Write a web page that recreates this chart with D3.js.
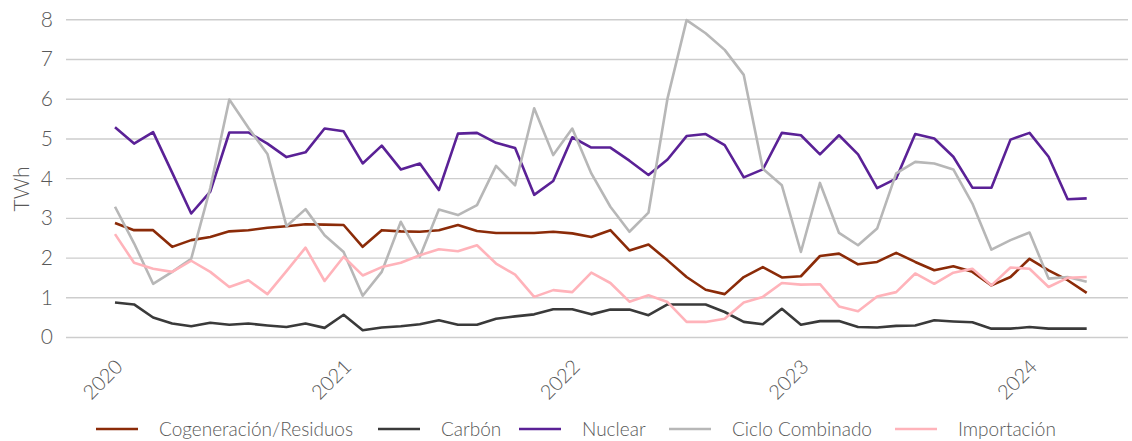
<!DOCTYPE html>
<html>
<head>
<meta charset="utf-8">
<script src="https://cdn.jsdelivr.net/npm/d3@7"></script>
<style>
  body { margin: 0; background: #fff; }
  svg { display: block; font-family: 'Lato', 'Noto Sans', sans-serif; font-weight: 300; }
  .grid line { stroke: #cdcdcd; stroke-width: 1.4; }
  .grid path { display: none; }
  .tick-label { fill: #595959; }
  .series { fill: none; stroke-width: 2.6; stroke-linejoin: round; }
</style>
</head>
<body>
<svg id="chart"></svg>
<script>
// Monthly generation by technology, Jan 2020 - Apr 2024 (TWh)

const W = 1132, H = 441;

const months = d3.timeMonths(new Date(2020, 0, 1), new Date(2024, 4, 1)).map(d3.timeFormat('%Y-%m'));
const yearTicks = ['2020-01', '2021-01', '2022-01', '2023-01', '2024-01'];
const yTicks = [0, 1, 2, 3, 4, 5, 6, 7, 8];

const seriesNames = ['Cogeneración/Residuos', 'Carbón', 'Nuclear', 'Ciclo Combinado', 'Importación'];
const seriesColors = ['#8b2b08', '#3a3a3a', '#5a2196', '#b7b7b7', '#ffb3ba'];

const cogeneracion = [
  2.87, 2.69, 2.69, 2.27, 2.44, 2.52, 2.66, 2.69, 2.75, 2.79, 2.84, 2.83,
  2.82, 2.27, 2.69, 2.66, 2.65, 2.69, 2.82, 2.67, 2.62, 2.62, 2.62, 2.65,
  2.61, 2.52, 2.69, 2.18, 2.33, 1.93, 1.51, 1.19, 1.08, 1.51, 1.76, 1.50,
  1.53, 2.04, 2.10, 1.83, 1.89, 2.12, 1.89, 1.68, 1.78, 1.64, 1.30, 1.51,
  1.97, 1.68, 1.43, 1.11
];
const carbon = [
  0.87, 0.82, 0.49, 0.34, 0.27, 0.36, 0.31, 0.34, 0.29, 0.25, 0.34, 0.23,
  0.56, 0.17, 0.24, 0.27, 0.32, 0.42, 0.31, 0.31, 0.46, 0.52, 0.57, 0.70,
  0.70, 0.57, 0.69, 0.69, 0.55, 0.82, 0.82, 0.82, 0.63, 0.38, 0.32, 0.71,
  0.31, 0.40, 0.40, 0.25, 0.24, 0.28, 0.29, 0.42, 0.39, 0.37, 0.21, 0.21,
  0.25, 0.21, 0.21, 0.21
];
const nuclear = [
  5.28, 4.87, 5.16, 4.14, 3.11, 3.66, 5.15, 5.15, 4.87, 4.53, 4.65, 5.25,
  5.18, 4.37, 4.82, 4.22, 4.37, 3.70, 5.12, 5.14, 4.89, 4.76, 3.58, 3.93,
  5.03, 4.77, 4.77, 4.44, 4.08, 4.47, 5.06, 5.11, 4.83, 4.02, 4.22, 5.14,
  5.08, 4.60, 5.08, 4.60, 3.75, 3.99, 5.11, 5.00, 4.54, 3.76, 3.76, 4.97,
  5.14, 4.54, 3.47, 3.49
];
const cicloCombinado = [
  3.28, 2.36, 1.34, 1.64, 1.97, 3.75, 5.98, 5.27, 4.61, 2.79, 3.22, 2.56,
  2.14, 1.04, 1.64, 2.90, 2.02, 3.21, 3.07, 3.32, 4.31, 3.82, 5.76, 4.58,
  5.25, 4.12, 3.28, 2.65, 3.13, 6.01, 7.98, 7.65, 7.23, 6.60, 4.24, 3.82,
  2.14, 3.88, 2.62, 2.31, 2.73, 4.12, 4.41, 4.37, 4.22, 3.36, 2.20, 2.44,
  2.63, 1.47, 1.51, 1.39
];
const importacion = [
  2.59, 1.87, 1.72, 1.64, 1.92, 1.64, 1.26, 1.43, 1.08, 1.66, 2.25, 1.41,
  2.02, 1.55, 1.76, 1.87, 2.06, 2.21, 2.16, 2.31, 1.85, 1.57, 1.01, 1.18,
  1.13, 1.62, 1.36, 0.89, 1.05, 0.88, 0.38, 0.38, 0.46, 0.87, 1.01, 1.36,
  1.32, 1.33, 0.77, 0.65, 1.02, 1.13, 1.60, 1.34, 1.62, 1.72, 1.30, 1.75,
  1.72, 1.26, 1.49, 1.51
];
const seriesValues = [cogeneracion, carbon, nuclear, cicloCombinado, importacion];

const PLOT = { left: 66, right: 1128, top: 19.3, bottom: 337 };
// legend swatch left edges, as laid out in the original
const legendX = [96, 378, 519, 669, 895];

const svg = d3.select('#chart')
  .attr('width', W)
  .attr('height', H)
  .attr('viewBox', `0 0 ${W} ${H}`);

const x = d3.scalePoint().domain(months).range([115, 1086.7]);
const y = d3.scaleLinear().domain([0, 8]).range([PLOT.bottom, PLOT.top]);

// horizontal gridlines
svg.append('g')
  .attr('class', 'grid')
  .attr('transform', `translate(${PLOT.left},0)`)
  .call(d3.axisLeft(y).tickValues(yTicks).tickSize(-(PLOT.right - PLOT.left)).tickFormat(''));

// y tick labels
svg.append('g').selectAll('text')
  .data(yTicks)
  .join('text')
  .attr('class', 'tick-label')
  .attr('x', 53)
  .attr('y', d => y(d))
  .attr('dy', '0.35em')
  .attr('text-anchor', 'end')
  .style('font-size', '21px')
  .text(d => d);

svg.append('text')
  .attr('class', 'tick-label')
  .attr('transform', 'translate(29,189) rotate(-90)')
  .attr('text-anchor', 'middle')
  .style('font-size', '21px')
  .text('TWh');

// x year labels, rotated
svg.append('g').selectAll('text')
  .data(yearTicks)
  .join('text')
  .attr('class', 'tick-label')
  .attr('transform', d => `translate(${x(d) + 9},368) rotate(-45)`)
  .attr('text-anchor', 'end')
  .style('font-size', '20px')
  .text(d => d.slice(0, 4));

// lines
const line = d3.line()
  .x((d, i) => x(months[i]))
  .y(d => y(d));

svg.append('g').selectAll('path')
  .data(seriesValues)
  .join('path')
  .attr('class', 'series')
  .attr('stroke', (d, i) => seriesColors[i])
  .attr('d', line);

// legend
const items = svg.append('g').attr('class', 'legend')
  .selectAll('g')
  .data(seriesNames)
  .join('g')
  .attr('transform', (d, i) => `translate(${legendX[i]},429)`);

items.append('line')
  .attr('x1', 0).attr('x2', 42)
  .attr('y1', 0).attr('y2', 0)
  .attr('stroke', (d, i) => seriesColors[i])
  .attr('stroke-width', 2.6);

items.append('text')
  .attr('class', 'tick-label')
  .attr('x', 63)
  .attr('y', 0)
  .attr('dy', '0.35em')
  .style('font-size', '19px')
  .text(d => d);
</script>
</body>
</html>
